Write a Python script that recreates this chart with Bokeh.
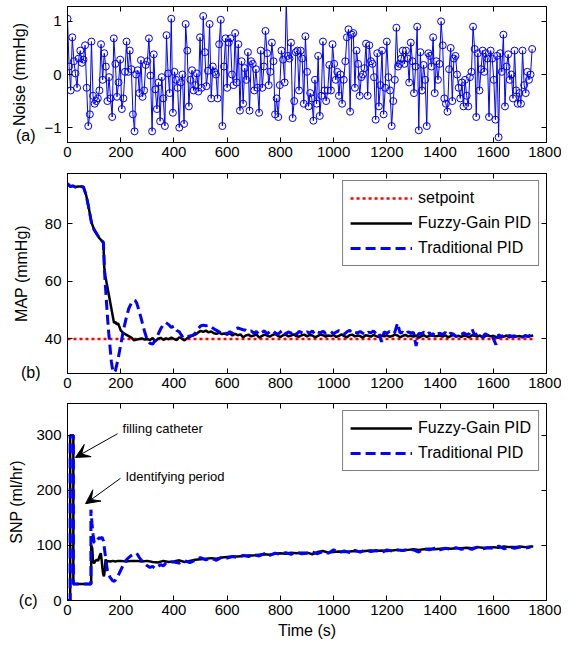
from bokeh.plotting import figure
from bokeh.layouts import column
from bokeh.models import (Range1d, FixedTicker, LinearAxis, Label, Arrow, VeeHead,
                          CustomJSTickFormatter)
from bokeh.embed import file_html
from bokeh.resources import INLINE

FONT = "Liberation Sans"

# ---------------- data ----------------
x_ticks = [0, 200, 400, 600, 800, 1000, 1200, 1400, 1600, 1800]

# (a) measurement noise, sampled every 6 s
noise_time = list(range(0, 1750, 6))
noise_vals = [
    1.05, 0.15, -0.30, 0.70, 0.25, 0.02, -0.25, 0.30, 0.45, 0.22,
    0.28, 0.55, -0.25, -0.97, -0.75, 0.62, -0.40, -0.55, -0.50, -0.45,
    -0.30, 0.57, -0.10, 0.40, 0.15, -0.50, -0.05, -0.45, -0.80, 0.68,
    0.20, -0.42, -0.15, 0.28, -0.65, -0.45, 0.05, 0.62, 0.05, 0.45,
    0.10, -0.75, -1.07, 0.00, 0.08, -0.35, 0.27, -0.42, -0.30, 0.18,
    0.25, 0.68, -0.02, -1.07, 0.38, -0.28, -0.65, -0.15, -0.88, -0.05,
    -0.45, -0.97, 0.74, 0.02, -0.35, 1.05, -0.72, 0.05, -0.10, -0.25,
    -1.00, -0.15, 0.00, -0.93, 0.95, 0.45, -0.60, -0.10, 0.08, -0.30,
    -0.20, 0.02, -0.32, 0.70, -0.25, 1.10, 0.42, -0.22, 0.07, 0.95,
    -0.45, 0.15, 0.05, 0.00, -0.45, 0.57, 1.03, -0.97, 0.15, 0.68,
    -0.25, 0.60, 0.68, 0.00, -0.20, 0.78, -0.15, 0.57, -0.68, 0.25,
    -0.55, 0.12, -0.10, 0.42, -0.68, 0.25, 0.20, -0.30, 0.10, -0.25,
    -0.72, 0.45, -0.25, 0.15, 0.82, 0.40, -0.20, 0.05, 0.60, 0.25,
    -0.75, -0.45, -0.80, -0.20, 0.45, 0.28, -0.15, 1.40, 0.35, 0.30,
    0.60, -0.82, -0.50, 0.42, 0.45, -0.30, 0.45, 0.30, -0.55, 0.72,
    0.05, -0.60, -0.35, -0.45, -0.87, -0.10, -0.55, 0.35, -0.78, -0.40,
    0.62, -0.30, -0.50, -0.30, 0.18, -0.30, 0.57, 0.20, -0.10, 0.05,
    -0.40, 0.00, -0.55, -0.10, 0.25, 0.70, 0.85, -0.70, 0.75, 0.78,
    -0.25, 0.45, 0.20, -0.40, -0.05, 0.00, 0.12, 0.58, -0.40, 0.55,
    0.25, 0.20, -0.05, -0.85, 0.40, -0.60, -0.20, 0.45, -0.75, -0.25,
    0.62, -0.05, -0.30, -0.97, -0.50, -0.10, 0.88, 0.15, 0.20, 0.30,
    0.45, 0.20, 0.45, 0.30, -0.15, 0.60, 0.25, -0.35, 0.15, 0.90,
    -1.05, 0.42, -0.30, 0.18, -0.10, -0.97, 0.40, 0.35, 0.15, 0.70,
    -0.35, 0.25, -0.10, 0.20, 1.00, 0.55, -0.45, -0.55, -0.70, 0.10,
    0.50, -0.50, 0.30, 0.35, 0.00, -0.25, -0.45, -0.15, -0.60, -0.10,
    -0.40, -0.60, -0.05, 0.05, 0.90, 0.48, -0.80, 0.40, -0.30, 0.10,
    0.45, 0.05, 0.40, 0.30, -0.80, 0.45, 0.30, -0.10, -0.85, 0.35,
    -1.18, 0.40, 0.05, 0.75, -0.60, 0.15, 0.38, -0.10, 0.00, -0.45,
    0.45, -0.30, -0.55, -0.35, -0.55, 0.45, -0.20, -0.35, 0.05, -0.10,
    0.00, 0.48,
]

# (b) MAP
setpoint_time = [0, 1750]
setpoint_vals = [40, 40]

map_trans_time = [0, 5, 10, 20, 30, 40, 50, 60, 70, 80, 90, 100, 110, 120, 130, 135]
map_trans_vals = [94.0, 93.5, 93.0, 93.2, 92.8, 93.0, 93.0, 92.8, 90.0, 85.5, 80.5,
                  78.0, 76.5, 75.0, 74.0, 73.5]

fuzzy_map_mid_time = [138, 142, 150, 160, 170, 175, 180, 185, 190, 200, 210, 220,
                      230, 240, 250, 260, 270, 280, 290]
fuzzy_map_mid_vals = [65.0, 62.0, 58.0, 53.0, 48.0, 45.5, 46.0, 45.0, 45.5, 43.0,
                      42.0, 41.5, 41.0, 40.5, 39.5, 39.8, 40.0, 40.2, 39.8]

trad_map_mid_time = [140, 145, 150, 155, 160, 165, 170, 175, 180, 190, 200, 210,
                     220, 230, 240, 250, 255, 260, 270, 280, 290]
trad_map_mid_vals = [62.0, 55.0, 48.0, 42.0, 37.0, 32.0, 29.0, 28.3, 29.0, 33.0,
                     38.0, 43.0, 47.0, 50.5, 52.5, 53.5, 53.3, 52.5, 49.5, 46.0, 42.5]

map_tail_time = list(range(300, 1760, 10))
fuzzy_map_tail = [
    40.0, 39.6, 40.3, 39.2, 40.1, 40.4, 39.7, 40.2, 39.9, 40.5,
    40.0, 39.6, 40.6, 40.1, 39.5, 40.3, 40.8, 41.2, 41.5, 42.2,
    42.8, 42.5, 42.9, 42.3, 42.6, 42.0, 41.8, 42.2, 41.7, 41.9,
    41.5, 42.0, 41.2, 41.8, 41.3, 41.6, 40.6, 41.2, 41.5, 40.9,
    41.2, 41.6, 40.5, 41.0, 41.5, 41.2, 40.8, 41.4, 41.7, 41.1,
    40.7, 41.3, 41.5, 40.9, 41.2, 41.6, 41.0, 40.8, 41.3, 41.5,
    40.9, 41.4, 41.2, 40.6, 41.0, 41.5, 41.3, 40.8, 41.2, 41.0,
    41.4, 40.7, 41.1, 41.6, 41.0, 40.6, 41.3, 41.5, 40.9, 41.2,
    41.0, 40.5, 41.3, 41.1, 40.8, 41.4, 41.0, 40.7, 41.2, 40.9,
    41.3, 40.8, 41.0, 41.5, 41.2, 40.6, 41.1, 41.4, 40.9, 41.2,
    40.8, 41.2, 40.4, 41.0, 41.3, 40.7, 41.1, 41.4, 40.9, 41.0,
    41.2, 40.8, 41.3, 40.6, 41.0, 41.4, 40.9, 41.1, 40.7, 41.2,
    41.0, 40.6, 41.3, 41.1, 40.8, 41.2, 40.5, 41.0, 41.3, 40.9,
    41.1, 40.7, 40.4, 41.0, 40.8, 41.2, 40.6, 41.0, 40.8, 40.9,
    41.0, 40.7, 41.1, 40.8, 41.0, 41.2,
]
trad_map_tail = [
    39.5, 38.5, 38.2, 39.5, 41.5, 43.5, 45.0, 45.7, 45.0, 44.0,
    44.5, 43.0, 42.5, 41.0, 41.5, 40.8, 41.0, 41.2, 42.0, 43.5,
    44.5, 44.8, 44.6, 44.8, 44.2, 43.5, 43.0, 42.5, 42.0, 42.2,
    41.8, 42.5, 42.0, 43.5, 43.8, 43.5, 43.2, 43.0, 42.5, 42.8,
    42.0, 42.6, 41.5, 42.3, 42.8, 41.8, 42.5, 43.0, 42.2, 41.6,
    42.4, 43.2, 41.7, 42.5, 42.0, 42.9, 41.5, 42.6, 42.2, 41.8,
    42.5, 42.0, 42.8, 41.6, 42.4, 42.1, 42.7, 41.9, 42.3, 42.6,
    41.8, 42.4, 42.9, 42.0, 41.7, 42.5, 43.0, 41.9, 42.3, 42.1,
    42.6, 42.0, 41.5, 42.4, 42.1, 42.8, 41.7, 42.2, 39.0, 42.5,
    42.0, 42.6, 41.8, 42.3, 45.5, 42.0, 42.4, 41.6, 42.5, 42.1,
    42.3, 37.6, 42.0, 41.8, 42.4, 41.5, 42.2, 41.0, 42.5, 41.8,
    42.0, 41.5, 42.3, 41.2, 42.0, 41.7, 40.8, 41.9, 41.6, 42.1,
    41.5, 41.8, 43.5, 41.2, 41.9, 41.4, 40.6, 41.8, 41.2, 41.6,
    40.2, 38.0, 41.5, 40.8, 41.3, 40.6, 41.2, 40.9, 41.1, 40.7,
    41.0, 40.6, 41.2, 40.9, 41.3, 41.5,
]

# (c) SNP infusion rate
fuzzy_snp_time = [0, 10, 10, 22, 22, 89, 89, 93, 96, 100, 105, 110, 115, 120, 125,
                  128, 131, 134, 137, 140, 143, 146, 150, 160, 170, 180, 190, 200,
                  220, 240, 260, 280,
                  300, 320, 340, 360, 380, 400, 420, 440, 460, 480, 500, 520, 540,
                  560, 580, 600, 620, 640, 660, 680, 700, 720, 740, 760, 780, 800,
                  820, 840, 860, 880, 900, 920, 940, 960, 980, 1000, 1020, 1040,
                  1060, 1080, 1100, 1120, 1140, 1160, 1180, 1200, 1220, 1240, 1260,
                  1280, 1300, 1320, 1340, 1360, 1380, 1400, 1420, 1440, 1460, 1480,
                  1500, 1520, 1540, 1560, 1580, 1600, 1620, 1640, 1660, 1680, 1700,
                  1720, 1740, 1750]
fuzzy_snp_vals = [0, 0, 300, 300, 30, 30, 100, 95, 70, 68, 72, 74, 72, 80, 86,
                  75, 60, 48, 44, 55, 75, 68, 72, 71, 72, 71, 72, 72,
                  71, 72, 72, 71,
                  72, 70, 69, 72, 70, 71, 73, 70, 72, 74, 75, 76, 77,
                  76, 78, 79, 80, 80, 81, 82, 82, 83, 84, 83, 85, 86,
                  85, 87, 86, 87, 87, 84, 88, 90, 87, 88, 89, 88,
                  89, 90, 89, 90, 91, 90, 91, 90, 91, 92, 91,
                  92, 93, 92, 93, 94, 93, 94, 95, 94, 95, 95,
                  96, 95, 97, 96, 96, 97, 96, 98, 97, 97, 98,
                  97, 98, 98]

trad_snp_time = [0, 10, 10, 22, 22, 88, 88, 92, 96, 100, 105, 110, 115, 120, 125,
                 130, 135, 140, 145, 150, 160, 170, 175, 180, 190, 200, 210, 220,
                 230, 240, 250, 260, 270, 280, 290, 300, 310, 320, 330, 340, 350,
                 360, 370, 380, 390,
                 400, 420, 440, 460, 480, 500, 520, 540, 560, 580, 600, 620, 640,
                 660, 680, 700, 720, 740, 760, 780, 800, 820, 840, 860, 880, 900,
                 920, 940, 960, 980, 1000, 1020, 1040, 1060, 1080, 1100, 1120, 1140,
                 1160, 1180, 1200, 1220, 1240, 1260, 1280, 1300, 1320, 1340, 1360,
                 1380, 1400, 1420, 1440, 1460, 1480, 1500, 1520, 1540, 1560, 1580,
                 1600, 1620, 1640, 1660, 1680, 1700, 1720, 1740]
trad_snp_vals = [0, 0, 300, 300, 30, 30, 165, 140, 120, 106, 104, 108, 112, 114, 113,
                 115, 108, 90, 70, 55, 42, 36, 35, 37, 45, 55, 65, 73,
                 78, 82, 85, 86, 78, 72, 67, 63, 60, 62, 58, 62, 65,
                 63, 68, 66, 70,
                 70, 68, 72, 69, 73, 78, 74, 77, 73, 79, 77, 80, 78,
                 82, 80, 83, 81, 85, 82, 86, 84, 87, 84, 88, 85, 86,
                 88, 85, 89, 86, 92, 87, 90, 87, 91, 88, 92, 89,
                 91, 87, 92, 90, 92, 91, 93, 92, 88, 94, 92,
                 95, 92, 95, 93, 96, 93, 95, 93, 97, 94, 96,
                 95, 99, 94, 97, 95, 97, 95, 97]

fuzzy_map_time = map_trans_time + fuzzy_map_mid_time + map_tail_time
fuzzy_map_vals = map_trans_vals + fuzzy_map_mid_vals + fuzzy_map_tail
trad_map_time = map_trans_time + trad_map_mid_time + map_tail_time
trad_map_vals = map_trans_vals + trad_map_mid_vals + trad_map_tail

# ---------------- styling helpers ----------------
def style_axis(ax, ticks, show_labels=True, label_standoff=6):
    ax.ticker = FixedTicker(ticks=ticks)
    ax.major_tick_in = 5
    ax.major_tick_out = 0
    ax.minor_tick_line_color = None
    ax.axis_line_color = "black"
    ax.major_tick_line_color = "black"
    ax.major_label_text_font = FONT
    ax.axis_label_text_font = FONT
    ax.axis_label_text_font_size = "16px"
    ax.axis_label_text_font_style = "normal"
    ax.axis_label_text_color = "black"
    if show_labels:
        ax.major_label_text_color = "black"
        ax.major_label_text_font_size = "15px"
        ax.major_label_standoff = label_standoff
    else:
        ax.major_label_text_color = None
        ax.major_label_text_font_size = "1px"
        ax.major_label_standoff = 0


def make_fig(height, top, bottom, yr, yticks, ylabel, ylabel_standoff):
    p = figure(width=561, height=height,
               x_range=Range1d(0, 1800), y_range=Range1d(*yr),
               output_backend="svg", toolbar_location=None,
               min_border_left=67, min_border_right=15,
               min_border_top=top, min_border_bottom=bottom)
    p.grid.visible = False
    p.outline_line_color = "black"
    p.outline_line_width = 1
    p.background_fill_color = "white"
    p.border_fill_color = "white"
    xb = p.below[0]
    yl = p.left[0]
    style_axis(xb, x_ticks, True, 4)
    style_axis(yl, yticks, True, 6)
    yl.axis_label = ylabel
    yl.axis_label_standoff = ylabel_standoff
    ra = LinearAxis()
    style_axis(ra, yticks, False)
    p.add_layout(ra, "right")
    ta = LinearAxis()
    style_axis(ta, x_ticks, False)
    p.add_layout(ta, "above")
    return p, xb


def panel_tag(p, text, yval, pad, standoff):
    # an outer, invisible left axis carrying one label: the panel letter
    tag = LinearAxis(ticker=FixedTicker(ticks=[yval]),
                     formatter=CustomJSTickFormatter(args=dict(t="\u00a0" * pad + text),
                                                     code="return t;"))
    tag.axis_line_color = None
    tag.major_tick_line_color = None
    tag.minor_tick_line_color = None
    tag.major_tick_in = 0
    tag.major_tick_out = 0
    tag.major_label_standoff = standoff
    tag.major_label_text_font = FONT
    tag.major_label_text_font_size = "16px"
    tag.major_label_text_color = "black"
    p.add_layout(tag, "left")


def style_legend(p):
    lg = p.legend[0]
    lg.location = "top_right"
    lg.glyph_width = 62
    lg.glyph_height = 20
    lg.label_height = 20
    lg.label_text_font = FONT
    lg.label_text_font_size = "16px"
    lg.label_text_color = "black"
    lg.label_standoff = 6
    lg.padding = 7
    lg.spacing = 5
    lg.margin = 7
    lg.border_line_color = "black"
    lg.border_line_width = 1
    lg.background_fill_alpha = 1.0


BLUE = "#0000ff"

# ---------------- (a) noise ----------------
pa, pa_x = make_fig(166, 6, 24, (-1.28, 1.28), [-1, 0, 1], "Noise (mmHg)", 13)
pa.line(noise_time, noise_vals, line_color=BLUE, line_width=1)
pa.scatter(noise_time, noise_vals, marker="circle", size=7, fill_color=None,
           line_color=BLUE, line_width=1)
panel_tag(pa, "(a)", -1.14, 2, -27)

# ---------------- (b) MAP ----------------
pb, pb_x = make_fig(231, 7, 24, (28, 97.5), [40, 60, 80], "MAP (mmHg)", 12)
pb.line(setpoint_time, setpoint_vals, line_color="red", line_width=2.5,
        line_dash="3 3", legend_label="setpoint")
pb.line(fuzzy_map_time, fuzzy_map_vals, line_color="black", line_width=2.5,
        legend_label="Fuzzy-Gain PID")
pb.line(trad_map_time, trad_map_vals, line_color=BLUE, line_width=3,
        line_dash="10 5", legend_label="Traditional PID")
style_legend(pb)
panel_tag(pb, "(b)", 28.2, 3, -31)

# ---------------- (c) SNP ----------------
pc, pc_x = make_fig(246, 6, 43, (0, 358), [0, 100, 200, 300], "SNP (ml/hr)", 8)
pc_x.axis_label = "Time (s)"
pc_x.axis_label_standoff = 4
pc.line(fuzzy_snp_time, fuzzy_snp_vals, line_color="black", line_width=2.5,
        legend_label="Fuzzy-Gain PID")
pc.line(trad_snp_time, trad_snp_vals, line_color=BLUE, line_width=3,
        line_dash="10 5", legend_label="Traditional PID")
style_legend(pc)
panel_tag(pc, "(c)", 0, 3, -32)

pc.add_layout(Arrow(x_start=188, y_start=303, x_end=30, y_end=260, line_width=1,
                    line_color="black",
                    end=VeeHead(size=14, fill_color="black", line_color="black")))
pc.add_layout(Arrow(x_start=199, y_start=222, x_end=68, y_end=176, line_width=1,
                    line_color="black",
                    end=VeeHead(size=14, fill_color="black", line_color="black")))
pc.add_layout(Label(x=207, y=313, text="filling catheter", text_font=FONT,
                    text_font_size="13px", text_baseline="middle", text_color="black"))
pc.add_layout(Label(x=218, y=225, text="Identifying period", text_font=FONT,
                    text_font_size="13px", text_baseline="middle", text_color="black"))

layout = column(pa, pb, pc, spacing=0)
open("out.html", "w").write(file_html(layout, INLINE))
